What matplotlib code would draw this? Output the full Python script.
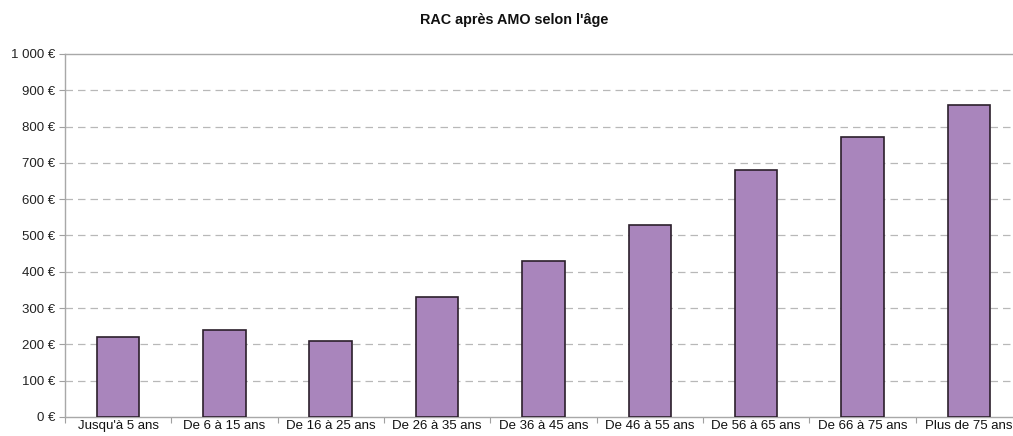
import matplotlib
matplotlib.use("Agg")
import matplotlib.pyplot as plt
from matplotlib.ticker import FixedLocator

plt.rcParams['font.family'] = ['Liberation Sans', 'DejaVu Sans']

categories = ["Jusqu'à 5 ans", "De 6 à 15 ans", "De 16 à 25 ans", "De 26 à 35 ans",
              "De 36 à 45 ans", "De 46 à 55 ans", "De 56 à 65 ans", "De 66 à 75 ans",
              "Plus de 75 ans"]
rac_values = [220, 240, 210, 330, 430, 530, 680, 770, 860]
y_ticks = [0, 100, 200, 300, 400, 500, 600, 700, 800, 900, 1000]
y_tick_labels = ["0 €", "100 €", "200 €", "300 €", "400 €", "500 €", "600 €",
                 "700 €", "800 €", "900 €", "1 000 €"]
title = "RAC après AMO selon l'âge"

fig = plt.figure(figsize=(10.13, 4.36), dpi=100)
ax = fig.add_axes([0.064, 0.0436, 0.945, 0.8326])

x = list(range(len(categories)))
ax.bar(x, rac_values, width=0.4, color="#A985BC", edgecolor="#2b1f2b",
       linewidth=1.2, zorder=3)

ax.set_xlim(-0.5, len(categories) - 0.5)
ax.set_ylim(0, 1000)

ax.set_yticks(y_ticks)
ax.set_yticklabels(y_tick_labels, fontsize=9.5, color="#222222")
for yv in y_ticks[1:-1]:
    ax.axhline(yv, color="#b8b8b8", linewidth=0.9, linestyle=(0, (6, 4)), zorder=1)

ax.set_xticks(x)
ax.set_xticklabels(categories, fontsize=9.5, color="#111111")
ax.tick_params(axis='x', length=0, pad=2)
ax.xaxis.set_minor_locator(FixedLocator([i + 0.5 for i in range(-1, len(categories))]))
ax.tick_params(axis='x', which='minor', length=4, color="#a0a0a0", width=0.8)
ax.tick_params(axis='y', length=4, color="#a0a0a0", width=0.8, pad=3)

for side in ("left", "bottom", "top"):
    ax.spines[side].set_color("#a8a8a8")
    ax.spines[side].set_linewidth(1.0)
ax.spines["right"].set_visible(False)

fig.text(0.508, 0.954, title, ha="center", va="center", fontsize=10.4,
         fontweight="bold", color="#111111")

fig.savefig("out.png", dpi=100, facecolor="white")
